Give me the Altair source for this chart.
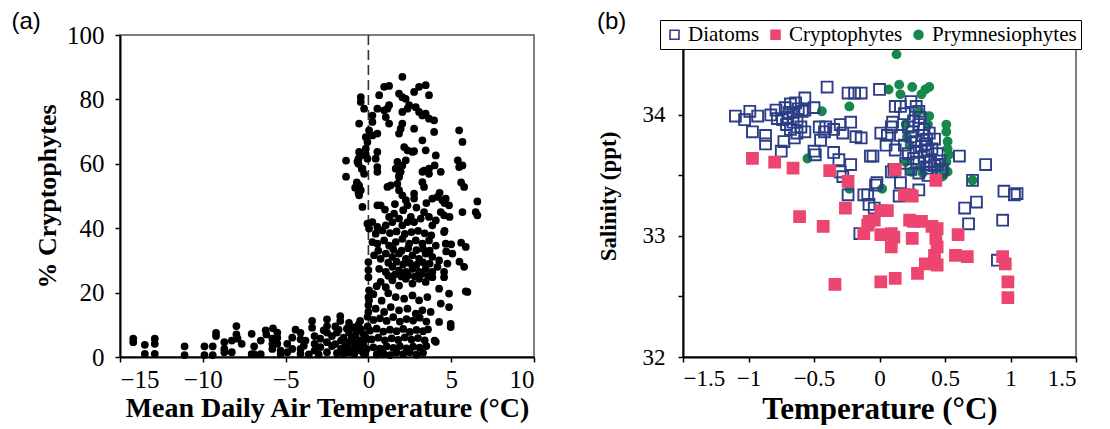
import altair as alt
import pandas as pd

SERIF = "Liberation Serif"
SANS = "Liberation Sans"

# ---------------- Panel (a): % Cryptophytes vs mean daily air temperature ----------------
a_cold = [
    (-14.2, 5.7), (-14.2, 4.6), (-13.5, 3.8), (-13.5, 1.0), (-12.9, 5.7), (-12.9, 4.1), (-12.9, 1.0),
    (-11.1, 3.3), (-11.1, 0.6), (-9.9, 3.3), (-9.9, 0.6), (-9.4, 3.3), (-9.4, 0.6), (-9.2, 7.5),
    (-9.2, 6.5), (-8.7, 4.6), (-8.7, 2.5), (-8.7, 1.5), (-8.25, 5.1), (-8.25, 1.5), (-7.97, 9.6),
    (-7.97, 7.0), (-7.9, 5.7), (-7.65, 4.1), (-7.05, 7.2), (-7.05, 0.9), (-6.9, 3.3), (-6.9, 0.9),
    (-6.5, 5.1), (-6.5, 0.9), (-6.2, 8.3), (-6.16, 7.0), (-5.8, 5.7), (-5.8, 4.1), (-5.8, 2.5),
    (-5.76, 8.9), (-5.5, 7.6), (-5.5, 6.0), (-5.5, 4.1), (-5.3, 2.0), (-5.3, 1.0), (-4.9, 4.1),
    (-4.9, 1.5), (-4.6, 6.0), (-4.6, 2.5), (-4.4, 8.5), (-4.1, 7.5), (-4.1, 5.5), (-4.1, 2.5),
    (-4.1, 1.0), (-3.9, 3.5), (-3.8, 5.1), (-3.6, 0.8), (-3.4, 11.2), (-3.4, 9.1), (-3.25, 6.5),
    (-3.25, 4.1), (-3.25, 2.0), (-3.0, 0.8), (-2.9, 5.7), (-2.9, 3.1), (-2.7, 8.3), (-2.5, 11.7),
    (-2.5, 9.6), (-2.5, 7.6), (-2.5, 4.6), (-2.5, 1.5), (-2.2, 6.5), (-2.2, 3.4), (-2.0, 9.5),
    (-2.0, 4.0), (-1.9, 7.6), (-1.9, 1.2), (-1.8, 8.5), (-1.7, 12.7), (-1.7, 11.2), (-1.65, 5.1),
    (-1.65, 2.5), (-1.5, 6.0), (-1.5, 1.0),
]
a_transition = [
    (-1.4, 3.5), (-1.3, 8.8), (-1.3, 3.0), (-1.17, 10.6), (-1.17, 7.6), (-1.17, 4.6), (-1.17, 1.5),
    (-1.0, 6.0), (-1.0, 2.4), (-0.9, 9.2), (-0.9, 4.8), (-0.85, 1.0), (-0.77, 6.5), (-0.77, 3.1),
    (-0.7, 8.0), (-0.6, 4.0), (-0.6, 10.0), (-0.5, 11.2), (-0.46, 8.6), (-0.46, 5.1), (-0.46, 2.0),
    (-0.3, 7.2), (-0.3, 3.8), (-0.3, 1.2), (-0.2, 6.3), (-0.2, 1.2), (-0.1, 5.6), (-0.1, 2.5),
    (-0.05, 9.5), (-0.05, 12.5), (0.0, 14.0), (0.0, 16.1), (0.0, 18.6), (0.04, 17.6), (0.04, 20.7),
    (0.0, 24.8), (0.0, 27.0), (0.0, 29.5), (-0.06, 41.4), (0.04, 39.9), (-1.35, 61.0), (-1.35, 56.0),
    (-0.7, 54.2), (-0.8, 52.6), (-0.6, 51.0), (-0.6, 61.6), (-0.6, 60.0), (-0.4, 58.4),
]
a_high = [
    (2.05, 87.0), (0.95, 83.9), (1.25, 84.2), (0.65, 81.3), (-0.46, 80.7), (-0.46, 79.2), (-0.26, 77.1),
    (-0.56, 72.5), (1.85, 81.8), (2.05, 80.7), (2.25, 80.2), (2.76, 82.3), (3.06, 83.9), (3.46, 84.4),
    (3.66, 81.3), (1.25, 78.2), (1.15, 77.1), (0.54, 77.1), (0.95, 76.6), (0.24, 75.0), (0.24, 73.0),
    (2.05, 76.1), (2.36, 77.1), (2.46, 78.2), (2.86, 77.6), (3.06, 76.1), (3.26, 75.0), (3.46, 75.6),
    (3.66, 74.0), (3.97, 73.5), (1.05, 74.5), (1.25, 72.5), (2.05, 72.5), (1.95, 70.9), (1.85, 69.4),
    (2.76, 70.9), (3.97, 69.9), (0.04, 70.4), (0.24, 68.8), (-0.16, 68.3), (-0.06, 66.8), (0.54, 69.4),
    (3.26, 67.3), (5.48, 70.4), (5.68, 66.8), (2.16, 65.2), (2.36, 64.2), (2.66, 63.7), (2.76, 63.9),
    (-0.16, 64.7), (-0.16, 63.1), (-0.06, 61.6), (-0.56, 63.7), (-0.46, 62.6), (-0.66, 60.6),
    (0.54, 63.7), (0.44, 61.6), (3.46, 64.2), (4.07, 62.6), (1.75, 60.6), (1.65, 58.5), (1.85, 56.4),
    (2.26, 61.1), (2.05, 59.5), (3.36, 57.9), (3.66, 58.5), (4.37, 57.5), (5.48, 59.0), (-0.36, 58.5),
    (-0.26, 56.9), (0.54, 59.0), (0.54, 57.5), (5.4, 61.1), (4.0, 59.5),
]
a_mid = [
    (-0.56, 53.3), (-0.46, 51.8), (-0.56, 50.2), (-0.36, 46.6), (0.54, 47.1), (0.74, 47.1), (1.15, 52.8),
    (1.35, 53.3), (1.85, 51.8), (2.05, 50.2), (1.75, 53.8), (1.85, 55.9), (1.95, 57.5), (2.26, 48.7),
    (2.36, 47.1), (2.76, 50.7), (2.76, 49.2), (3.26, 54.3), (3.36, 52.8), (3.66, 56.9), (3.26, 57.5),
    (3.86, 49.2), (4.17, 49.7), (4.47, 48.7), (4.67, 49.2), (4.87, 47.1), (4.37, 45.0), (4.57, 44.0),
    (5.78, 52.8), (5.68, 45.0), (6.48, 45.0), (6.58, 44.0), (6.58, 48.3), (5.68, 59.5), (5.88, 34.2),
    (5.78, 28.0), (5.88, 20.4), (5.6, 54.2), (4.3, 51.0), (4.6, 47.8), (4.9, 43.5), (4.6, 39.2),
    (4.7, 32.8), (5.0, 35.0), (5.6, 35.5), (5.5, 29.6),
    (0.24, 41.9), (0.54, 40.4), (0.85, 39.3), (0.44, 38.3), (1.05, 40.9), (1.45, 41.9), (1.25, 43.5),
    (1.55, 44.5), (1.85, 43.0), (2.05, 40.9), (2.36, 41.9), (2.56, 43.5), (2.76, 41.9), (3.16, 43.0),
    (3.36, 45.0), (3.66, 43.5), (3.86, 40.9), (4.07, 42.4), (1.0, 45.8), (1.6, 47.5), (2.1, 45.6),
    (2.9, 46.4), (3.5, 47.8),
    (1.3, 38.5), (1.7, 39.0), (2.2, 38.2), (2.6, 38.8), (3.0, 39.2), (3.4, 38.4), (3.8, 37.8),
    (0.24, 35.7), (0.54, 35.2), (0.95, 36.2), (1.25, 34.6), (1.65, 35.7), (2.05, 36.7), (2.46, 35.2),
    (2.86, 36.2), (3.26, 35.2), (3.66, 36.2), (4.07, 34.6), (4.57, 38.8), (4.67, 35.2), (5.07, 32.1),
    (0.6, 33.0), (1.5, 33.5), (2.0, 33.0), (2.4, 33.8), (2.9, 33.2), (3.3, 33.6), (3.7, 33.0),
    (0.34, 31.6), (0.74, 30.5), (1.05, 32.1), (1.45, 31.1), (1.85, 32.1), (2.26, 30.5), (2.66, 31.6),
    (3.06, 30.5), (3.46, 32.1), (3.86, 31.1), (4.27, 30.0), (4.77, 29.0), (4.57, 26.4),
    (1.2, 29.3), (1.7, 29.6), (2.1, 28.8), (2.5, 29.2), (2.9, 28.6), (3.3, 29.4), (3.7, 29.0),
    (0.65, 27.4), (1.05, 26.4), (1.45, 28.0), (1.85, 26.9), (2.26, 26.4), (2.66, 27.4), (3.06, 26.4),
    (3.46, 27.4), (3.86, 26.4), (4.17, 28.0),
    (1.2, 25.2), (1.6, 25.6), (2.0, 25.0), (2.4, 25.4), (2.8, 25.0), (3.2, 25.8), (3.6, 25.2),
    (0.74, 23.3), (1.05, 21.7), (1.45, 23.8), (1.85, 22.2), (2.26, 24.3), (2.66, 22.8), (3.06, 24.3),
    (3.46, 23.3), (3.86, 24.8), (4.57, 24.8), (4.27, 21.2), (4.87, 19.7), (5.98, 20.2), (0.5, 22.0),
]
a_low = [
    (0.3, 19.5), (0.8, 17.5), (1.2, 19.8), (0.44, 15.0), (0.95, 14.0), (1.35, 15.5), (1.85, 14.5),
    (2.36, 15.0), (2.86, 13.5), (3.26, 14.5), (3.76, 14.0), (1.65, 18.6), (2.16, 18.1), (2.66, 19.1),
    (3.06, 17.6), (3.56, 18.6), (4.37, 16.6), (4.87, 15.5), (4.27, 10.9), (4.97, 10.3), (4.97, 9.3),
    (4.07, 4.7), (4.0, 5.1),
    (0.3, 11.5), (0.7, 12.0), (1.1, 11.2), (1.5, 12.4), (1.9, 11.0), (2.3, 11.8), (2.7, 11.3),
    (3.1, 12.2), (3.5, 11.0),
    (0.1, 8.2), (0.5, 8.8), (0.9, 7.9), (1.3, 8.5), (1.7, 8.0), (2.1, 8.7), (2.5, 7.8), (2.9, 8.4),
    (3.3, 8.0), (3.6, 8.6),
    (0.2, 5.5), (0.6, 6.0), (1.0, 5.2), (1.4, 5.8), (1.8, 5.3), (2.2, 6.1), (2.6, 5.4), (3.0, 5.9),
    (3.4, 5.2),
    (0.3, 3.0), (0.7, 2.6), (1.1, 3.3), (1.5, 2.8), (1.9, 3.4), (2.3, 2.7), (2.7, 3.2), (3.1, 2.9),
    (3.5, 3.4),
    (0.5, 0.8), (0.9, 1.2), (1.3, 0.6), (1.7, 1.4), (2.1, 0.9), (2.5, 1.5), (2.9, 0.7), (3.3, 1.3),
]
a_x_ticks = [-15, -10, -5, 0, 5, 10]
a_y_ticks = [0, 20, 40, 60, 80, 100]
a_zero_line = [0.0]

# ---------------- Panel (b): salinity vs temperature ----------------
b_diatoms = [
    (-1.10, 33.99), (-1.03, 33.96), (-0.99, 34.03), (-0.93, 33.99), (-0.97, 33.86), (-0.87, 33.83),
    (-0.87, 33.76), (-0.83, 34.00), (-0.79, 34.04), (-0.78, 33.97), (-0.75, 33.70), (-0.73, 33.78),
    (-0.72, 34.06), (-0.68, 34.09), (-0.64, 34.10), (-0.66, 34.02), (-0.63, 33.96), (-0.71, 33.92),
    (-0.68, 33.88), (-0.63, 33.85), (-0.60, 33.90), (-0.59, 34.03), (-0.62, 34.05), (-0.70, 33.98),
    (-0.66, 33.94), (-0.74, 33.96), (-0.69, 34.02), (-0.65, 33.81),
    (-0.57, 34.14), (-0.57, 34.04), (-0.57, 33.86), (-0.50, 34.06), (-0.46, 33.90), (-0.45, 33.79),
    (-0.42, 33.86), (-0.41, 33.90), (-0.50, 33.70), (-0.49, 33.67), (-0.40, 34.23), (-0.35, 33.88),
    (-0.30, 33.92), (-0.28, 33.85), (-0.22, 33.94), (-0.24, 34.18), (-0.19, 34.18), (-0.14, 34.18),
    (-0.35, 33.69), (-0.31, 33.63), (-0.22, 33.59), (-0.30, 33.53), (-0.28, 33.49), (-0.24, 33.34),
    (-0.18, 33.82), (-0.14, 33.81), (-0.12, 33.34), (-0.05, 33.66), (-0.15, 33.02), (-0.04, 33.23),
    (0.00, 34.21), (-0.07, 33.66), (-0.03, 33.42), (-0.02, 33.44), (-0.09, 33.34), (-0.08, 33.26),
    (0.12, 34.07), (0.16, 34.07), (0.19, 34.01), (0.24, 34.11), (0.28, 34.07), (0.30, 34.03),
    (0.10, 33.94), (0.09, 33.90), (0.01, 33.85), (0.06, 33.83), (0.05, 33.75), (0.12, 33.71),
    (0.16, 33.83), (0.19, 33.75),
    (0.22, 33.90), (0.26, 33.95), (0.30, 33.92), (0.34, 33.88), (0.38, 33.85), (0.42, 33.80),
    (0.24, 33.82), (0.28, 33.78), (0.32, 33.74), (0.36, 33.80), (0.40, 33.72), (0.44, 33.68),
    (0.22, 33.68), (0.26, 33.64), (0.30, 33.60), (0.34, 33.66), (0.38, 33.62), (0.42, 33.58),
    (0.24, 33.55), (0.30, 33.52), (0.36, 33.56), (0.28, 33.70), (0.33, 33.83), (0.37, 33.70),
    (0.31, 33.98), (0.35, 33.76), (0.25, 33.86), (0.20, 33.60), (0.46, 33.62), (0.48, 33.55),
    (0.09, 33.53), (0.11, 33.55), (0.16, 33.44), (0.15, 33.33), (0.19, 33.34), (0.30, 33.38),
    (0.39, 33.61), (0.44, 33.59), (0.37, 33.50), (0.47, 33.53), (0.61, 33.66), (0.81, 33.59),
    (0.71, 33.46), (0.65, 33.23), (0.74, 33.28), (0.68, 33.10), (0.95, 33.37), (1.03, 33.34),
    (1.05, 33.35), (0.94, 33.13), (0.90, 32.80),
]
b_crypto = [
    (-0.97, 33.64), (-0.80, 33.61), (-0.66, 33.56), (-0.38, 33.54), (-0.24, 33.45), (-0.26, 33.23),
    (-0.61, 33.16), (-0.43, 33.08), (-0.34, 32.60), (-0.08, 33.12), (-0.12, 33.02), (0.12, 33.55),
    (0.19, 33.34), (0.23, 33.34), (0.25, 33.33), (0.43, 33.46), (0.01, 33.21), (0.06, 33.21),
    (-0.04, 33.13), (-0.09, 33.09), (0.23, 33.13), (0.26, 33.12), (0.32, 33.12), (0.40, 33.08),
    (0.44, 33.06), (0.43, 32.98), (0.44, 32.91), (0.42, 32.84), (0.44, 32.76), (0.01, 33.01),
    (0.09, 33.02), (0.11, 32.99), (0.09, 32.91), (0.25, 32.98), (0.60, 33.01), (0.58, 32.84),
    (0.67, 32.83), (0.35, 32.77), (0.29, 32.69), (0.01, 32.62), (0.12, 32.65), (0.94, 32.83),
    (0.96, 32.77), (0.98, 32.62), (0.98, 32.49),
]
b_prym = [
    (-0.44, 34.03), (-0.23, 34.07), (-0.55, 33.64), (-0.23, 33.39), (0.13, 34.50), (0.07, 34.21),
    (0.15, 34.25), (0.16, 34.17), (0.25, 34.23), (0.32, 34.17), (0.35, 34.21), (0.38, 34.23),
    (0.30, 34.03), (0.38, 33.99), (0.37, 33.92), (0.51, 33.92), (0.51, 33.86), (0.52, 33.78),
    (0.52, 33.72), (0.53, 33.67), (0.51, 33.61), (0.52, 33.53), (0.48, 33.49), (0.46, 33.56),
    (0.20, 33.92), (0.21, 33.82), (0.23, 33.75), (0.20, 33.61), (0.24, 33.53), (0.32, 33.56),
    (0.33, 33.52), (0.02, 33.39), (0.71, 33.46),
]
b_groups = ["Diatoms", "Cryptophytes", "Prymnesiophytes"]
b_x_ticks = [-1.5, -1, -0.5, 0, 0.5, 1, 1.5]
b_y_ticks = [32, 32.5, 33, 33.5, 34]

NAVY = "#2c3e86"
RED = "#ec4670"
GREEN = "#16894a"

# ---------------- build tables ----------------
df_a = pd.DataFrame(
    [{"temp": x, "pct": y} for grp in (a_cold, a_transition, a_high, a_mid, a_low) for x, y in grp]
)
df_zero = pd.DataFrame({"temp": a_zero_line})

rows_b = []
for name, pts in (("Prymnesiophytes", b_prym), ("Diatoms", b_diatoms), ("Cryptophytes", b_crypto)):
    for x, s in pts:
        rows_b.append({"temp": x, "sal": s, "group": name})
df_b = pd.DataFrame(rows_b)
df_b["z"] = range(len(df_b))

# ---------------- panel (a) ----------------
xa = alt.X(
    "temp:Q",
    scale=alt.Scale(domain=[-15, 10], nice=False, zero=False),
    axis=alt.Axis(values=a_x_ticks, title="Mean Daily Air Temperature (°C)", labelFont=SERIF,
                  titleFont=SERIF, labelFontSize=25, titleFontSize=28, labelPadding=5, titlePadding=2),
)
ya = alt.Y(
    "pct:Q",
    scale=alt.Scale(domain=[0, 100], nice=False),
    axis=alt.Axis(values=a_y_ticks, title="% Cryptophytes", labelFont=SERIF, titleFont=SERIF,
                  labelFontSize=25, titleFontSize=26, labelPadding=11, titlePadding=6),
)
dots_a = alt.Chart(df_a).mark_circle(size=60, color="black", opacity=1).encode(x=xa, y=ya)
zero_a = alt.Chart(df_zero).mark_rule(color="#333333", strokeWidth=1.6, strokeDash=[10, 5]).encode(
    x=alt.X("temp:Q")
)
panel_a = alt.layer(zero_a, dots_a).properties(
    width=414, height=322,
    title=alt.TitleParams("(a)", anchor="start", font=SANS, fontSize=24, fontWeight="normal",
                          color="black", dx=-23, offset=-11),
)

# ---------------- panel (b) ----------------
# The white-filled legend box sits over the top strip of the plot frame, as in the original.
leg = alt.Legend(
    title=None, orient="none", legendX=-23, legendY=-15, direction="horizontal", columns=3,
    strokeColor="black", fillColor="white", padding=4, labelFont=SERIF, labelFontSize=21,
    labelColor="black", labelLimit=400, symbolSize=80, symbolStrokeWidth=1.6, columnPadding=5,
    labelOffset=3,
)
xb = alt.X(
    "temp:Q",
    scale=alt.Scale(domain=[-1.5, 1.5], nice=False, zero=False),
    axis=alt.Axis(values=b_x_ticks, format="~g", title="Temperature (°C)", labelFont=SERIF,
                  titleFont=SERIF, labelFontSize=23, titleFontSize=31, labelPadding=5, titlePadding=4),
)
yb = alt.Y(
    "sal:Q",
    scale=alt.Scale(domain=[32, 34.66], nice=False, zero=False),
    axis=alt.Axis(values=b_y_ticks, labelExpr="datum.value % 1 === 0 ? format(datum.value, 'd') : ''",
                  title="Salinity (ppt)", labelFont=SERIF, titleFont=SERIF, labelFontSize=23,
                  titleFontSize=23, labelPadding=13, titlePadding=22),
)
enc_shape = alt.Shape("group:N", scale=alt.Scale(domain=b_groups, range=["square", "square", "circle"]), legend=leg)
enc_fill = alt.Fill("group:N", scale=alt.Scale(domain=b_groups, range=["transparent", RED, GREEN]), legend=leg)
enc_stroke = alt.Stroke("group:N", scale=alt.Scale(domain=b_groups, range=[NAVY, RED, GREEN]), legend=leg)

base_b = alt.Chart(df_b).encode(x=xb, y=yb, shape=enc_shape, fill=enc_fill, stroke=enc_stroke,
                                order=alt.Order("z:Q"))
circles_b = base_b.transform_filter(alt.datum.group == "Prymnesiophytes").mark_point(
    size=70, opacity=1, strokeWidth=1.5)
squares_b = base_b.transform_filter(alt.datum.group != "Prymnesiophytes").mark_point(
    size=118, opacity=1, strokeWidth=1.9)

panel_b = alt.layer(circles_b, squares_b).properties(
    width=393, height=322,
    title=alt.TitleParams("(b)", anchor="start", font=SANS, fontSize=24, fontWeight="normal",
                          color="black", offset=-14),
)

chart = alt.hconcat(panel_a, panel_b, spacing=60).resolve_scale(
    shape="independent", fill="independent", stroke="independent"
).configure(
    font=SERIF
).configure_view(
    stroke="#555555", strokeWidth=1.5
).configure_axis(
    grid=False, domainColor="black", domainWidth=2, tickColor="black", tickWidth=1.5, tickSize=5,
    labelColor="black", titleColor="black", labelFont=SERIF, titleFont=SERIF, titleFontWeight="bold",
).configure_legend(
    labelFont=SERIF, labelFontSize=21, labelLimit=400, labelColor="black"
).properties(
    padding={"left": 2, "right": 0, "top": 0, "bottom": 0}, background="white"
)

chart.save("out.html", embed_options={"renderer": "svg", "actions": False})
